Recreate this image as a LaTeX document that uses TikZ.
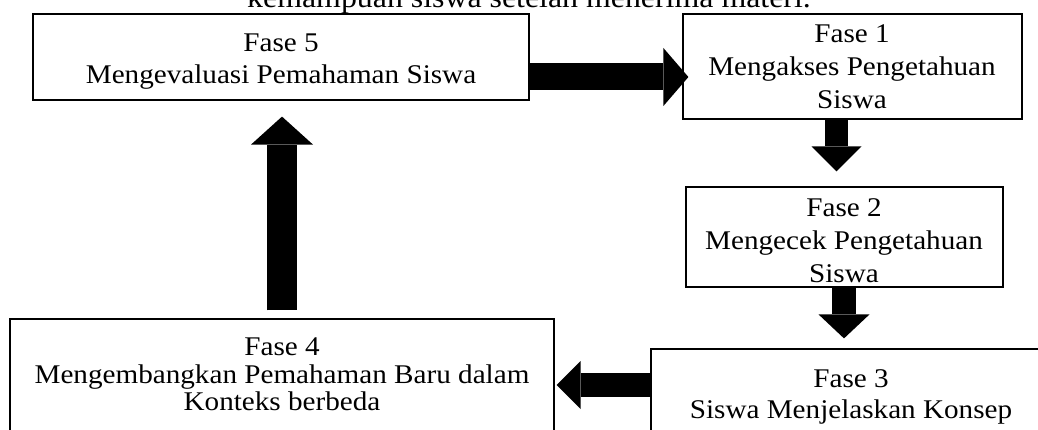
\documentclass[tikz,border=0pt]{standalone}
\usepackage{fontspec}
\setmainfont{Liberation Serif}
\usetikzlibrary{arrows.meta,calc}
\newcommand{\hs}[1]{\scalebox{1.08}[1]{#1}}
\begin{document}
\begin{tikzpicture}[x=1pt,y=-1pt,
  box/.style={draw, line width=1.2pt, inner sep=0pt},
  txt/.style={inner sep=0pt, anchor=base, font=\fontsize{27}{32}\selectfont},
  barrow/.style n args={3}{line width=#1pt, -{Triangle[length=#2pt,width=#3pt,line width=0pt]}}]
\useasboundingbox (0,0) rectangle (1038,430);
\fill[white] (0,0) rectangle (1038,430);
% clipped text line from the page above
\node[txt, font=\fontsize{29.5}{34}\selectfont] (top) at (529,8) {\hs{kemampuan siswa setelah menerima materi.}};
% boxes
\node[box, minimum width=496pt, minimum height=86pt] (f5) at (281,57) {};
\node[box, minimum width=339pt, minimum height=105pt] (f1) at (852.5,66.5) {};
\node[box, minimum width=317pt, minimum height=100pt] (f2) at (844.5,237) {};
\node[box, minimum width=399pt, minimum height=101pt] (f3) at (850.5,399.5) {};
\node[box, minimum width=544pt, minimum height=131pt] (f4) at (282,384.5) {};
% texts
\node[txt] (f5a) at (281,52) {\hs{Fase 5}};
\node[txt] (f5b) at (281,84) {\hs{Mengevaluasi Pemahaman Siswa}};
\node[txt] (f1a) at (852,43) {\hs{Fase 1}};
\node[txt] (f1b) at (852,75.5) {\hs{Mengakses Pengetahuan}};
\node[txt] (f1c) at (852,109) {\hs{Siswa}};
\node[txt] (f2a) at (844,217) {\hs{Fase 2}};
\node[txt] (f2b) at (844,250) {\hs{Mengecek Pengetahuan}};
\node[txt] (f2c) at (844,282) {\hs{Siswa}};
\node[txt] (f3a) at (851,387) {\hs{Fase 3}};
\node[txt] (f3b) at (851,418) {\hs{Siswa Menjelaskan Konsep}};
\node[txt] (f4a) at (282,355) {\hs{Fase 4}};
\node[txt] (f4b) at (282,383) {\hs{Mengembangkan Pemahaman Baru dalam}};
\node[txt] (f4c) at (282,410) {\hs{Konteks berbeda}};
% block arrows
\draw[barrow={27}{25}{58}] ($(f5.east)+(0,20)$) -- ($(f5.east -| f1.west)+(6,20)$);
\draw[barrow={23}{25}{50}] ($(f1.south)+(-16,0)$) -- ($(f2.north)+(-8,-15)$);
\draw[barrow={24}{24}{51}] ($(f2.south)+(-0.5,0)$) -- ($(f3.north)+(-6.5,-10)$);
\draw[barrow={24}{24}{48}] ($(f3.west)+(0,-14.5)$) -- ($(f3.west -| f4.east)+(2,-14.5)$);
\draw[barrow={30}{28}{62}] ($(f4.north)+(0,-8)$) -- ($(f5.south)+(1,16)$);
\end{tikzpicture}
\end{document}
